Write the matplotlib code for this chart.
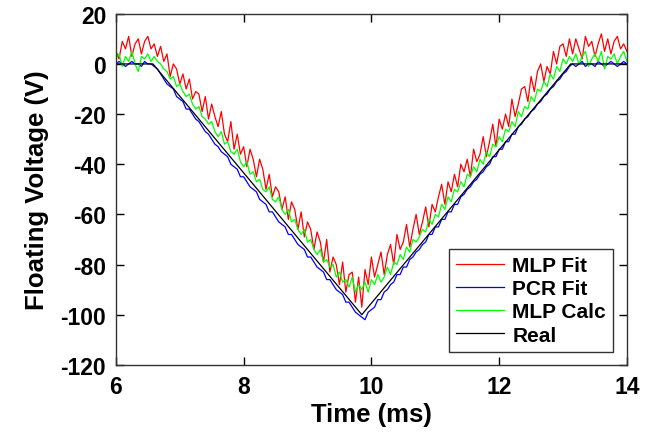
"""Floating voltage reconstruction: MLP / PCR fits vs real sweep."""
import numpy as np
import matplotlib
matplotlib.use("Agg")
import matplotlib.pyplot as plt

# time grid of the sampled fits (ms)
time_ms = np.linspace(6.0, 14.0, 161)

mlp_fit = [
    5, 2, 9, 6, 11, 3, 8, 10, 4, 9, 11, 6,
    8, 3, 7, 1, 4, -5, 0, -2, -8, -4, -10, -6, -14, -11, -12, -19, -13, -22,
    -16, -21, -25, -19, -28, -31, -23, -34, -28, -36, -33, -41, -34, -38, -45, -38, -42, -50,
    -44, -53, -49, -51, -58, -53, -62, -55, -58, -66, -59, -69, -63, -66, -74, -67, -71, -79,
    -70, -83, -77, -80, -88, -79, -91, -84, -83, -95, -85, -97,
    -82, -88, -77, -85, -80, -75, -84, -76, -72, -80, -68, -74, -71, -64, -73, -66, -60,
    -68, -63, -57, -65, -56, -59, -53, -48, -56, -47, -51, -44, -49, -40, -43, -38, -45,
    -34, -39, -36, -29, -37, -31, -24, -33, -22, -26, -20, -25, -14, -21, -16, -10, -9,
    -15, -5, -11, -3, 0, -7, -1, -4, 5, 0, 7, 8, 3, 10,
    4, 10, 6, 2, 11, 7, 9, 3, 8, 12, 5, 10, 4, 9, 11, 6, 8, 5,
]

pcr_fit = [
    0, 1, 0, -1, 0, 1, 0, 0, -1, 1, 0, 0,
    -1, -2, -4, -6, -8, -9, -10, -13, -14, -15, -18, -18, -20, -22, -23, -25, -27, -28,
    -30, -32, -33, -35, -36, -37, -40, -41, -42, -45, -45, -47, -49, -50, -51, -54,
    -55, -56, -59, -59, -61, -63, -64, -65, -68, -68, -70, -72, -73, -74, -77, -77,
    -79, -81, -82, -83, -86, -86, -88, -90, -91, -92, -95, -95, -97, -99, -100, -101,
    -102, -99, -98, -97, -94, -94, -91, -90, -88, -87, -84, -84, -81, -81, -78, -77,
    -75, -74, -72, -71, -68, -68, -65, -65, -62, -62, -59, -59, -56, -56, -53, -52,
    -50, -49, -47, -46, -44, -43, -41, -40, -37, -37, -34, -34, -31, -31, -28, -28,
    -25, -24, -22, -21, -19, -18, -16, -15, -13, -12, -10, -9, -7, -6, -4, -3, -1,
    0, -1, 0, 1, -1, 0, 0, -1, 1, 0, -1, 0, 1, 0, -1, 0, 1, 0,
]

mlp_calc = [
    2, 4, -1, 3, 1, 5, 0, -3, 3, 2, 4, 1,
    3, 1, 0, -2, -3, -6, -5, -9, -8, -11, -13, -12, -16, -18, -17, -21, -22, -24,
    -23, -27, -29, -27, -32, -31, -35, -36, -34, -39, -41, -39, -44, -43, -47, -46, -50, -51,
    -49, -54, -55, -53, -58, -60, -58, -63, -62, -66, -68, -66, -71, -70, -74, -76, -74, -79,
    -78, -81, -80, -85, -83, -87, -86, -89, -85, -91, -88, -90,
    -87, -91, -86, -88, -84, -87, -85, -81, -84, -79, -80, -76, -78, -73, -75, -70, -71,
    -69, -66, -67, -62, -64, -60, -61, -56, -58, -53, -55, -50, -51, -47, -49, -44, -45,
    -41, -43, -38, -40, -35, -37, -32, -33, -29, -31, -26, -27, -23, -25, -19, -21, -17,
    -18, -13, -15, -10, -11, -7, -9, -4, -6, -1, -3, 2, 0, 3,
    1, 4, 0, 3, 5, -1, 2, 4, 1, 5, -2, 3, 2, 4, 0, 3, 5, 1,
]

# real sweep: flat, ramp down, ramp up, flat
real_t = [6.0, 6.58, 9.85, 13.12, 14.0]
real_v = [0, 0, -100, 0, 0]

plt.rcParams["font.family"] = ["Liberation Sans", "DejaVu Sans"]
plt.rcParams["font.weight"] = "bold"
plt.rcParams["axes.unicode_minus"] = False

fig = plt.figure(figsize=(6.51, 4.35), dpi=100)
ax = fig.add_axes([0.178, 0.159, 0.785, 0.807])

ax.plot(time_ms, mlp_fit, color="#ff0000", lw=0.9, label="MLP Fit")
ax.plot(time_ms, pcr_fit, color="#0000ff", lw=0.9, label="PCR Fit")
ax.plot(time_ms, mlp_calc, color="#00ff00", lw=0.9, label="MLP Calc")
ax.plot(real_t, real_v, color="black", lw=0.9, label="Real")

ax.set_xlim(6, 14)
ax.set_ylim(-120, 20)
ax.set_xticks([6, 8, 10, 12, 14])
ax.set_yticks(range(-120, 21, 20))
ax.tick_params(direction="in", top=True, right=True, length=6, width=1,
               labelsize=16.5, pad=7)
for lab in ax.get_xticklabels() + ax.get_yticklabels():
    lab.set_fontweight("bold")
for sp in ax.spines.values():
    sp.set_linewidth(1.0)
    sp.set_color("#333333")

ax.set_xlabel("Time (ms)", fontsize=18.5, fontweight="bold", labelpad=3)
ax.set_ylabel("Floating Voltage (V)", fontsize=18.5, fontweight="bold", labelpad=8)

leg = ax.legend(loc="lower right", bbox_to_anchor=(0.973, 0.037), borderaxespad=0,
                fontsize=15, fancybox=False, edgecolor="#333333",
                handlelength=2.3, handletextpad=0.4, labelspacing=0.2,
                borderpad=0.35, framealpha=1)
leg.get_frame().set_linewidth(1.0)
for t in leg.get_texts():
    t.set_fontweight("bold")

fig.savefig("out.png", dpi=100)
